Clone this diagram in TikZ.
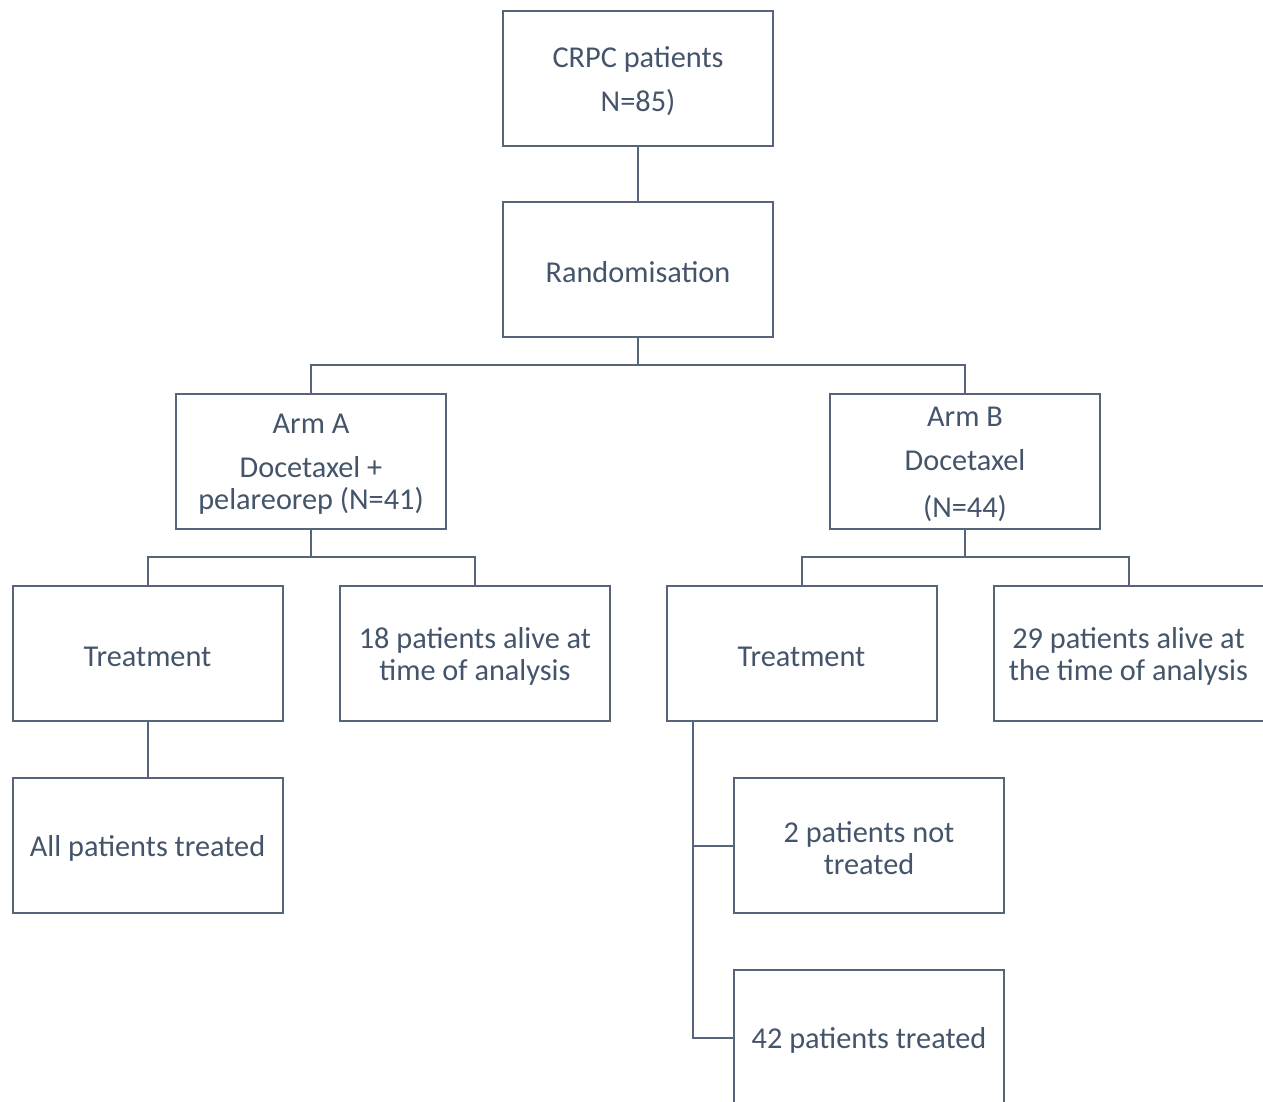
\documentclass[tikz,border=0pt]{standalone}
\usepackage{fontspec}
\setmainfont{Carlito}
\definecolor{txtc}{HTML}{44546A}
\definecolor{linec}{HTML}{56657A}
\begin{document}
\begin{tikzpicture}[x=1pt,y=-1pt,
  box/.style={draw=linec, line width=2pt, minimum width=270pt, minimum height=135pt,
    inner sep=0pt, label={[txtstyle]center:#1}},
  txtstyle/.style={inner sep=0pt, text=txtc, align=center, yshift=-3pt,
    font=\fontsize{30.3}{32}\selectfont},
  conn/.style={draw=linec, line width=2pt}]
\useasboundingbox (0,0) rectangle (1263,1101);
\clip (0,0) rectangle (1263,1101);
\node[box={CRPC patients\\[12pt]N=85)}] (crpc) at (638,78) {};
\node[box={Randomisation}] (rand) at (638,269.5) {};
\node[box={Arm A\\[12pt]Docetaxel +\\pelareorep (N=41)}] (armA) at (311,461.5) {};
\node[box={Arm B\\[12pt]Docetaxel\\[15pt](N=44)}] (armB) at (965,461.5) {};
\node[box={Treatment}] (treatA) at (147.5,653.5) {};
\node[box={18 patients alive at\\time of analysis}] (aliveA) at (475,653.5) {};
\node[box={Treatment}] (treatB) at (801.5,653.5) {};
\node[box={29 patients alive at\\the time of analysis}] (aliveB) at (1128.5,653.5) {};
\node[box={All patients treated}] (allA) at (147.5,845.5) {};
\node[box={2 patients not\\treated}] (notB) at (869,845.5) {};
\node[box={42 patients treated}] (yesB) at (869,1037.5) {};
\coordinate (j1) at (638,365);
\coordinate (j2) at (311,557);
\coordinate (j3) at (965,557);
\draw[conn] (crpc) -- (rand);
\draw[conn] (rand.south) -- (j1);
\draw[conn] (armA.north) -- (armA.north |- j1) -- (armB.north |- j1) -- (armB.north);
\draw[conn] (armA.south) -- (j2);
\draw[conn] (treatA.north) -- (treatA.north |- j2) -- (aliveA.north |- j2) -- (aliveA.north);
\draw[conn] (armB.south) -- (j3);
\draw[conn] (treatB.north) -- (treatB.north |- j3) -- (aliveB.north |- j3) -- (aliveB.north);
\draw[conn] (treatA) -- (allA);
\draw[conn] ([xshift=27pt]treatB.south west) |- (notB.west);
\draw[conn] ([xshift=27pt]treatB.south west) |- (yesB.west);
\end{tikzpicture}
\end{document}
